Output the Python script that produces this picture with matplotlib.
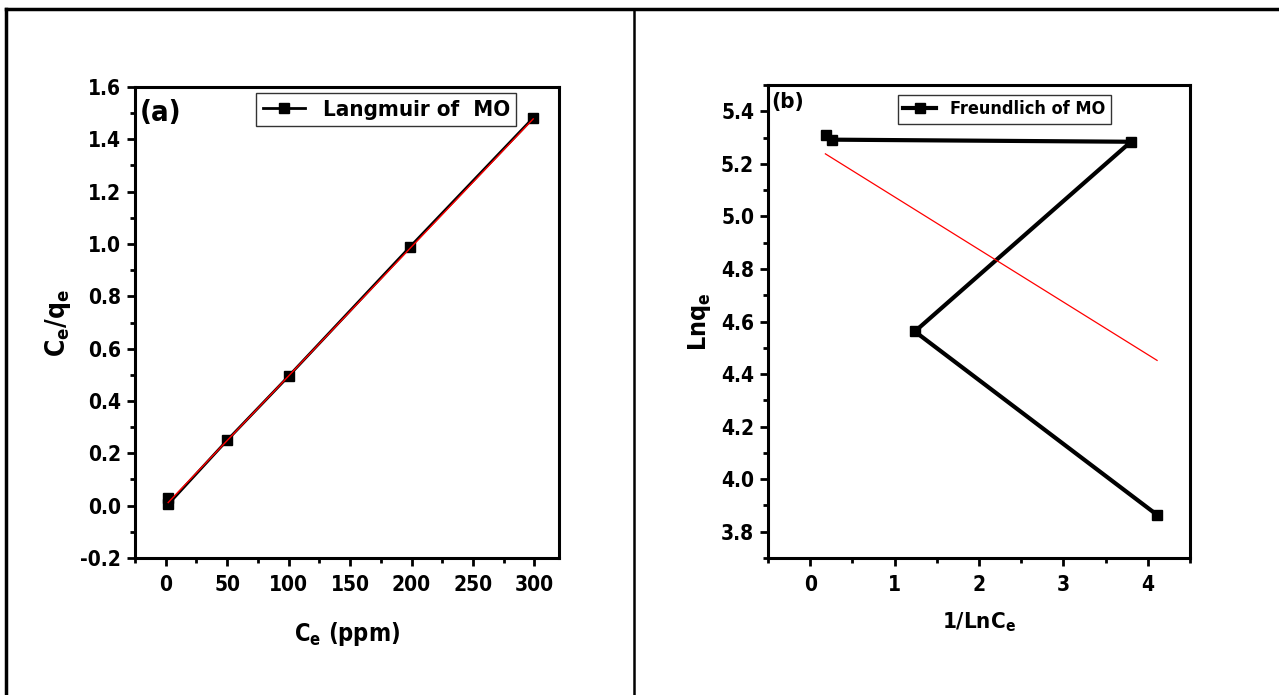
import matplotlib
matplotlib.use('Agg')
import matplotlib.pyplot as plt
from matplotlib.lines import Line2D
from matplotlib.ticker import MultipleLocator

plt.rcParams['font.family'] = ['DejaVu Sans']
plt.rcParams['font.stretch'] = 'condensed'
plt.rcParams['font.weight'] = 'bold'
plt.rcParams['mathtext.fontset'] = 'custom'
plt.rcParams['mathtext.rm'] = 'DejaVu Sans:bold:stretch=condensed'
plt.rcParams['mathtext.it'] = 'DejaVu Sans:bold:stretch=condensed'
plt.rcParams['mathtext.bf'] = 'DejaVu Sans:bold:stretch=condensed'
plt.rcParams['axes.unicode_minus'] = False

# (a) Langmuir
ce = [1.5, 2.0, 50, 100, 199, 299]
ce_qe = [0.03, 0.005, 0.25, 0.495, 0.99, 1.482]
fit_a_x = [2, 299]
fit_a_y = [0.012, 1.478]

# (b) Freundlich
inv_lnce = [0.19, 0.26, 3.80, 1.24, 4.11]
lnqe = [5.308, 5.292, 5.284, 4.562, 3.864]
fit_b_x = [0.18, 4.11]
fit_b_y = [5.238, 4.452]

fig = plt.figure(figsize=(12.79, 6.95), dpi=100)

# table frame
fig.add_artist(Line2D([6/1279, 1], [1 - 9/695, 1 - 9/695], color='black', lw=2.5))
fig.add_artist(Line2D([6/1279, 6/1279], [0, 1 - 9/695], color='black', lw=2.5))
fig.add_artist(Line2D([634/1279, 634/1279], [0, 1 - 9/695], color='black', lw=1.8))


def style(ax):
    for s in ax.spines.values():
        s.set_linewidth(2.2)
    ax.tick_params(which='major', direction='out', length=6, width=2, labelsize=15)
    ax.tick_params(which='minor', direction='out', length=3.5, width=2)
    ax.tick_params(axis='x', which='major', pad=6)
    ax.tick_params(axis='y', which='major', pad=4)
    ax.tick_params(top=False, right=False, which='both')
    for lab in ax.get_xticklabels() + ax.get_yticklabels():
        lab.set_fontweight('bold')


ax1 = fig.add_axes([135/1279, 137/695, 424/1279, 471/695])
ax1.plot(ce, ce_qe, color='black', lw=2, marker='s', ms=6.5, label='Langmuir of  MO')
ax1.plot(fit_a_x, fit_a_y, color='red', lw=1)
ax1.set_xlim(-25, 320)
ax1.set_ylim(-0.2, 1.6)
ax1.xaxis.set_major_locator(MultipleLocator(50))
ax1.xaxis.set_minor_locator(MultipleLocator(25))
ax1.yaxis.set_major_locator(MultipleLocator(0.2))
ax1.yaxis.set_minor_locator(MultipleLocator(0.1))
ax1.yaxis.set_major_formatter(plt.FuncFormatter(lambda v, p: '%.1f' % v))
style(ax1)
ax1.set_xlabel('C$_e$ (ppm)', fontsize=17, fontweight='bold', labelpad=18)
ax1.set_ylabel('C$_e$/q$_e$', fontsize=19, fontweight='bold', labelpad=5)
ax1.text(0.012, 0.975, '(a)', transform=ax1.transAxes, fontsize=21, fontweight='bold', va='top')
leg = ax1.legend(loc='upper left', bbox_to_anchor=(0.285, 0.987), borderaxespad=0,
                 fancybox=False, edgecolor='black', handlelength=1.9, borderpad=0.3,
                 prop={'size': 16, 'weight': 'bold', 'stretch': 'condensed'})
leg.get_frame().set_linewidth(1)

ax2 = fig.add_axes([768/1279, 137/695, 422/1279, 473/695])
ax2.plot(inv_lnce, lnqe, color='black', lw=3, marker='s', ms=6.5, label='Freundlich of MO')
ax2.plot(fit_b_x, fit_b_y, color='red', lw=0.9)
ax2.set_xlim(-0.5, 4.5)
ax2.set_ylim(3.7, 5.5)
ax2.xaxis.set_major_locator(MultipleLocator(1))
ax2.xaxis.set_minor_locator(MultipleLocator(0.5))
ax2.yaxis.set_major_locator(MultipleLocator(0.2))
ax2.yaxis.set_minor_locator(MultipleLocator(0.1))
ax2.yaxis.set_major_formatter(plt.FuncFormatter(lambda v, p: '%.1f' % v))
style(ax2)
ax2.set_xlabel('1/LnC$_e$', fontsize=16, fontweight='bold', labelpad=11)
ax2.set_ylabel('Lnq$_e$', fontsize=18, fontweight='bold', labelpad=6)
ax2.text(0.008, 0.985, '(b)', transform=ax2.transAxes, fontsize=16, fontweight='bold', va='top')
leg2 = ax2.legend(loc='upper left', bbox_to_anchor=(0.308, 0.979), borderaxespad=0,
                  fancybox=False, edgecolor='black', handlelength=1.8, borderpad=0.3,
                  prop={'size': 13, 'weight': 'bold', 'stretch': 'condensed'})
leg2.get_frame().set_linewidth(1)

plt.savefig('out.png', dpi=100)
